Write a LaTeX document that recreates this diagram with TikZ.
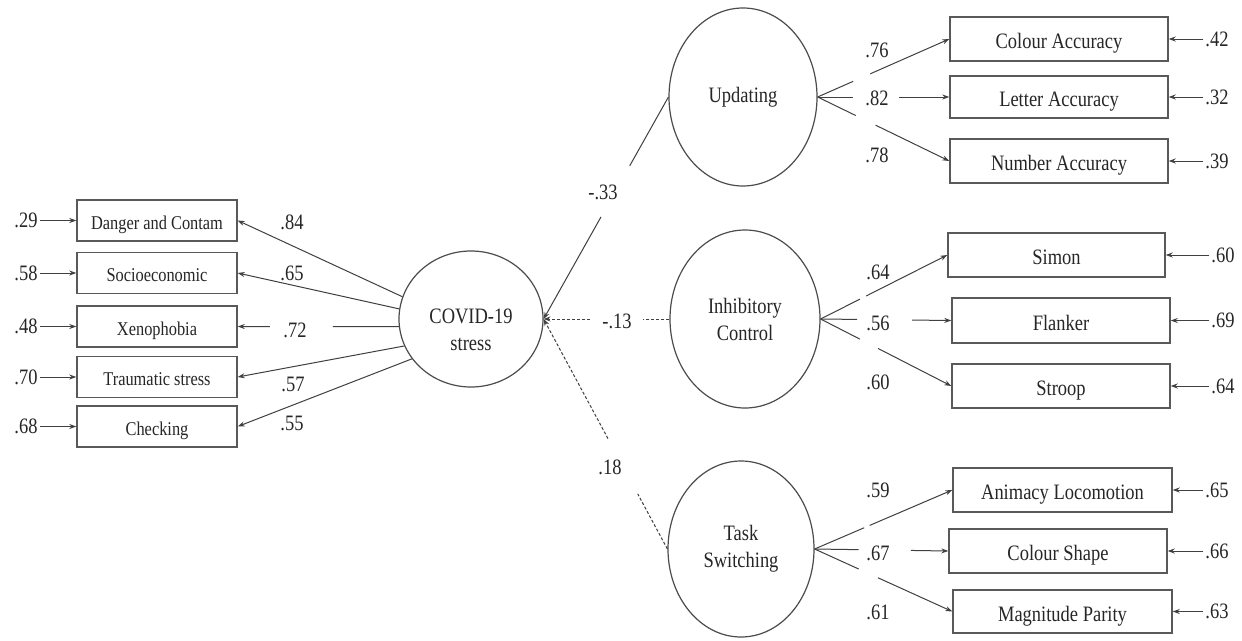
\documentclass[tikz,border=0pt]{standalone}
\usepackage{fontspec}
\setmainfont{Liberation Serif}[FakeStretch=0.84]
\usetikzlibrary{calc,arrows.meta,shapes.geometric}
\begin{document}
\begin{tikzpicture}[x=1pt,y=-1pt,
  lbl/.style={font=\fontsize{22}{24}\selectfont, inner sep=2pt, text=black!85},
  lbox/.style={draw=black!65, line width=1.4pt, minimum width=160pt, minimum height=41pt, inner sep=0pt, text height=17pt, text depth=0pt, font=\fontsize{19.5}{21}\selectfont, text=black!85},
  rbox/.style={draw=black!65, line width=1.4pt, minimum width=218pt, minimum height=44pt, inner sep=0pt, text height=19pt, text depth=0pt, font=\fontsize{22}{24}\selectfont, text=black!85},
  lat/.style={ellipse, draw=black!70, line width=1.2pt, inner sep=0pt, font=\fontsize{22}{27}\selectfont, align=center, text=black!85},
  ln/.style={draw=black!75, line width=1pt},
  arr/.style={ln, -{Stealth[length=7pt,width=5pt]}},
  dsh/.style={ln, dash pattern=on 3pt off 2pt},
]
\useasboundingbox[fill=white] (0,0) rectangle (1242,640);

% ---------- latent variables ----------
\node[lat, minimum width=144pt, minimum height=136pt,
  label={[lat, draw=none, yshift=-11pt]center:COVID-19\\stress}] (cov) at (471,319) {};
\node[lat, minimum width=148pt, minimum height=178pt] (upd) at (743,97) {Updating};
\node[lat, minimum width=150pt, minimum height=178pt] (inh) at (745,319) {Inhibitory\\Control};
\node[lat, minimum width=146pt, minimum height=176pt] (tsw) at (741,549) {Task\\Switching};

% ---------- left indicators ----------
\node[lbox] (b1) at (157,220.5) {Danger and Contam};
\node[lbox] (b2) at (157,273) {Socioeconomic};
\node[lbox] (b3) at (157,326.5) {Xenophobia};
\node[lbox] (b4) at (157,377) {Traumatic stress};
\node[lbox] (b5) at (157,426.5) {Checking};

\node[lbl] (e1) at (26,220.5) {.29};
\node[lbl] (e2) at (26,273) {.58};
\node[lbl] (e3) at (26,326.5) {.48};
\node[lbl] (e4) at (26,377) {.70};
\node[lbl] (e5) at (26,426.5) {.68};
\foreach \i in {1,...,5} \draw[arr] (e\i) -- (b\i);

\node[lbl] (l1) at (292,222) {.84};
\node[lbl] (l2) at (292,273) {.65};
\node[lbl] (l3) at (295,330) {.72};
\node[lbl] (l4) at (293,384) {.57};
\node[lbl] (l5) at (292,423) {.55};

\draw[arr] (cov.162) -- (b1.east);
\draw[arr] (cov.172) -- (b2.east);
\draw[ln] (cov.186) -- ($(cov.186)!0.41!(b3.east)$);
\draw[arr] ($(cov.186)!0.80!(b3.east)$) -- (b3.east);
\draw[arr] (cov.202) -- (b4.east);
\draw[arr] (cov.214) -- (b5.east);

% ---------- structural paths ----------
\node[lbl] (p1) at (603,192) {-.33};
\node[lbl] (p2) at (617,321) {-.13};
\node[lbl] (p3) at (610,467) {.18};

\draw[ln] (upd.west) -- ($(upd.west)!0.31!(cov.east)$);
\draw[arr] ($(upd.west)!0.54!(cov.east)$) -- (cov.east);
\draw[dsh] (inh.west) -- ($(inh.west)!0.21!(cov.east)$);
\draw[dsh, -{Stealth[length=7pt,width=5pt]}] ($(inh.west)!0.63!(cov.east)$) -- (cov.east);
\draw[dsh] (tsw.west) -- ($(tsw.west)!0.24!(cov.east)$);
\draw[dsh, -{Stealth[length=7pt,width=5pt]}] ($(tsw.west)!0.48!(cov.east)$) -- (cov.east);

% ---------- Updating indicators ----------
\node[rbox] (r1) at (1059,39) {Colour Accuracy};
\node[rbox, minimum height=42pt] (r2) at (1059,97) {Letter Accuracy};
\node[rbox] (r3) at (1059,161) {Number Accuracy};
\node[lbl] (u1) at (1217,39) {.42};
\node[lbl] (u2) at (1217,97) {.32};
\node[lbl] (u3) at (1217,161) {.39};
\node[lbl] (m1) at (877,50) {.76};
\node[lbl] (m2) at (877,98) {.82};
\node[lbl] (m3) at (877,155) {.78};

% ---------- Inhibitory indicators ----------
\node[rbox, minimum width=217pt] (s1) at (1056.5,255) {Simon};
\node[rbox, minimum height=45pt] (s2) at (1061,320.5) {Flanker};
\node[rbox] (s3) at (1061,386) {Stroop};
\node[lbl] (v1) at (1223,255) {.60};
\node[lbl] (v2) at (1223,320.5) {.69};
\node[lbl] (v3) at (1223,386) {.64};
\node[lbl] (n1) at (878,272) {.64};
\node[lbl] (n2) at (878,323) {.56};
\node[lbl] (n3) at (878,382) {.60};

% ---------- Task switching indicators ----------
\node[rbox, minimum width=219pt] (t1) at (1062.5,490) {Animacy Locomotion};
\node[rbox] (t2) at (1058,551) {Colour Shape};
\node[rbox, minimum width=219pt, minimum height=43pt] (t3) at (1062.5,611.5) {Magnitude Parity};
\node[lbl] (w1) at (1217,490) {.65};
\node[lbl] (w2) at (1217,551) {.66};
\node[lbl] (w3) at (1217,611.5) {.63};
\node[lbl] (o1) at (878,490) {.59};
\node[lbl] (o2) at (878,553) {.67};
\node[lbl] (o3) at (878,612) {.61};

% error arrows on the right
\foreach \a/\b in {u1/r1,u2/r2,u3/r3,v1/s1,v2/s2,v3/s3,w1/t1,w2/t2,w3/t3}
  \draw[arr] (\a) -- (\b);

% loadings (with gaps)
\foreach \src/\dst/\fa/\fb in {upd/r1/0.27/0.40, upd/r2/0.27/0.62, upd/r3/0.29/0.44,
                               inh/s1/0.31/0.36, inh/s2/0.28/0.70, inh/s3/0.30/0.44,
                               tsw/t1/0.36/0.40, tsw/t2/0.33/0.72, tsw/t3/0.32/0.46}{
  \draw[ln] (\src.east) -- ($(\src.east)!\fa!(\dst.west)$);
  \draw[arr] ($(\src.east)!\fb!(\dst.west)$) -- (\dst.west);
}
\end{tikzpicture}
\end{document}
